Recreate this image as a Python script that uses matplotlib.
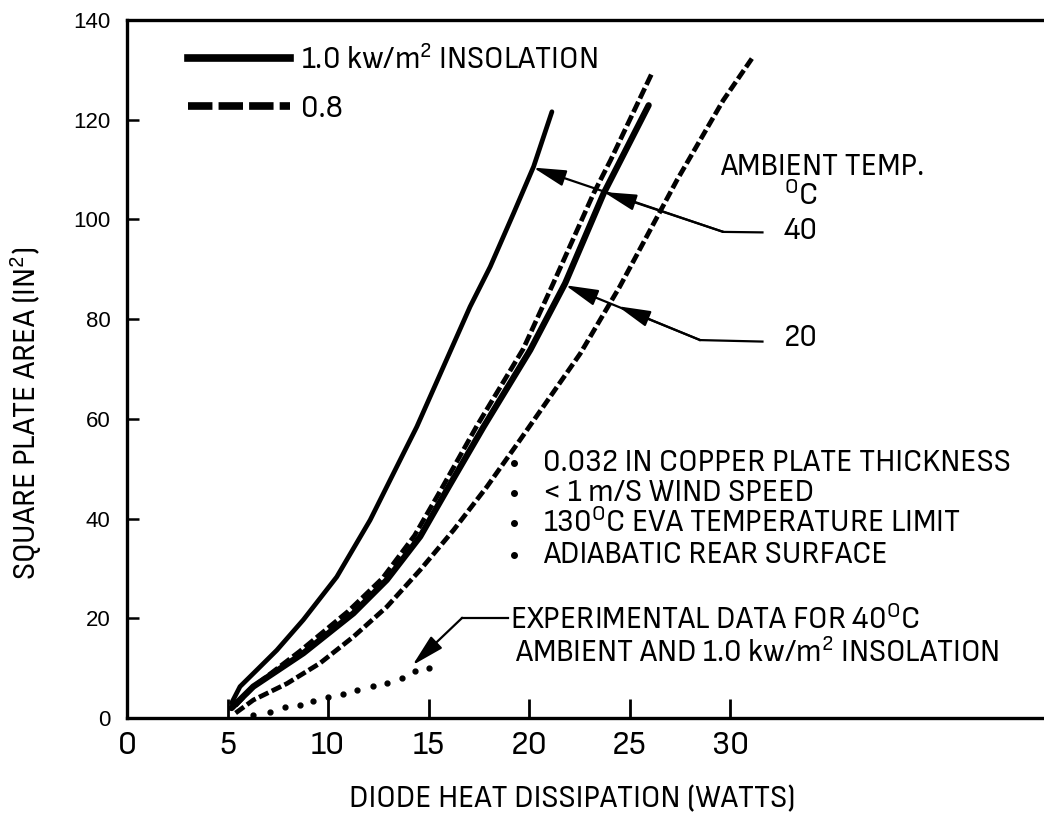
import matplotlib
matplotlib.use("Agg")
import matplotlib.pyplot as plt
from matplotlib.lines import Line2D

plt.rcParams['font.family'] = ['Sofia Sans Semi Condensed', 'Liberation Sans', 'DejaVu Sans']
plt.rcParams['mathtext.fontset'] = 'custom'
plt.rcParams['mathtext.rm'] = 'Sofia Sans Semi Condensed'
plt.rcParams['mathtext.it'] = 'Sofia Sans Semi Condensed'

# curvas (W, in^2)
x_40_10 = [5.2, 5.62, 6.5, 7.45, 8.77, 10.43, 12.09, 13.75, 14.41, 15.85, 17.06, 18.06, 19.22, 20.22, 21.13]
y_40_10 = [3.0, 6.3, 9.8, 13.6, 19.7, 28.3, 39.7, 53.1, 58.4, 71.5, 82.5, 90.5, 101.2, 110.6, 121.6]

x_20_10 = [5.2, 6.28, 8.77, 11.26, 12.92, 14.58, 16.0, 17.73, 20.05, 21.79, 23.7, 25.94]
y_20_10 = [2.0, 6.3, 13.0, 21.0, 27.7, 36.4, 46.4, 58.4, 73.8, 87.2, 105.2, 122.9]

x_40_08 = [5.4, 6.2, 8.6, 11.0, 12.7, 14.3, 15.7, 17.4, 19.7, 21.2, 23.2, 24.05, 26.1]
y_40_08 = [2.5, 6.0, 13.4, 21.4, 28.0, 36.6, 46.4, 58.6, 74.0, 87.2, 105.2, 111.9, 129.3]

x_20_08 = [5.4, 6.28, 7.95, 9.6, 11.26, 12.92, 14.58, 16.24, 17.9, 19.55, 22.54, 24.5, 27.35, 29.65, 31.08]
y_20_08 = [1.0, 3.6, 6.9, 11.0, 16.3, 22.3, 29.7, 37.7, 46.4, 55.8, 73.1, 86.5, 107.9, 123.9, 132.3]

# datos experimentales (40 C, 1.0 kw/m2)
exp_x = [6.29, 7.11, 7.86, 8.61, 9.27, 10.0, 10.76, 11.42, 12.22, 12.92, 13.66, 14.33, 15.04]
exp_y = [0.6, 1.3, 2.3, 2.6, 3.4, 4.2, 4.9, 5.6, 6.4, 7.1, 8.1, 9.4, 10.0]

x_ticks = [0, 5, 10, 15, 20, 25, 30]
y_ticks = [0, 20, 40, 60, 80, 100, 120, 140]

notes = ["0.032 IN COPPER PLATE THICKNESS",
         "< 1 m/S WIND SPEED",
         "130$^{\\rm O}$C EVA TEMPERATURE LIMIT",
         "ADIABATIC REAR SURFACE"]
notes_y = [51.1, 45.1, 39.1, 32.7]

fs = 23
fig = plt.figure(figsize=(10.44, 8.17), dpi=100)
ax = fig.add_axes([127 / 1044, 1 - 718 / 817, 1 - 127 / 1044, 698 / 817])

ax.plot(x_40_10, y_40_10, color='black', lw=3.4, solid_capstyle='round')
ax.plot(x_20_10, y_20_10, color='black', lw=4.5, solid_capstyle='round')
ax.plot(x_40_08, y_40_08, color='black', lw=3.4, dashes=(2.4, 0.8))
ax.plot(x_20_08, y_20_08, color='black', lw=3.4, dashes=(2.2, 0.8))
ax.plot(exp_x, exp_y, 'o', color='black', ms=3.5)

ax.set_xlim(0, 45.6)
ax.set_ylim(0, 140)
ax.set_xticks(x_ticks)
ax.set_yticks(y_ticks)
ax.tick_params(axis='x', direction='in', length=14, width=2, pad=9, labelsize=25)
ax.tick_params(axis='y', direction='in', length=8.5, width=1.8, pad=12,
               labelsize=16, labelfontfamily='Liberation Sans')
ax.spines['right'].set_visible(False)
for s in ['left', 'bottom', 'top']:
    ax.spines[s].set_linewidth(2.4)

ax.set_xlabel("DIODE HEAT DISSIPATION (WATTS)", fontsize=fs)
ax.xaxis.set_label_coords(0.486, -0.097)
ax.set_ylabel("SQUARE PLATE AREA (IN$^2$)", fontsize=fs)
ax.yaxis.set_label_coords(-0.09, 0.437)

# leyenda
handles = [Line2D([], [], color='black', lw=5.5),
           Line2D([], [], color='black', lw=5.5, dashes=(3.2, 0.8))]
ax.legend(handles, ["1.0 kw/m$^2$ INSOLATION", "0.8"], loc='upper left',
          bbox_to_anchor=(0.0665, 0.964), frameon=False, fontsize=fs,
          handlelength=3.2, handletextpad=0.33, labelspacing=0.62, borderpad=0,
          borderaxespad=0)

# etiquetas de temperatura
ax.text(29.5, 110.5, "AMBIENT TEMP.", fontsize=fs, va='center', ha='left')
ax.text(33.5, 104.7, "$^{\\rm O}$C", fontsize=fs, va='center', ha='center')
ax.text(33.5, 97.7, "40", fontsize=fs, va='center', ha='center')
ax.text(33.5, 76.2, "20", fontsize=fs, va='center', ha='center')

arr = dict(arrowstyle='-|>,head_length=1.0,head_width=0.25', color='black',
           lw=1.6, mutation_scale=20, shrinkA=0, shrinkB=0)
ax.plot([31.6, 29.65], [97.4, 97.5], color='black', lw=1.6)
ax.annotate("", xy=(20.2, 110.4), xytext=(29.65, 97.5), arrowprops=arr)
ax.annotate("", xy=(23.7, 105.5), xytext=(29.65, 97.5), arrowprops=arr)
ax.plot([31.6, 28.5], [75.5, 75.8], color='black', lw=1.6)
ax.annotate("", xy=(21.8, 86.8), xytext=(28.5, 75.8), arrowprops=arr)
ax.annotate("", xy=(24.4, 82.6), xytext=(28.5, 75.8), arrowprops=arr)

# notas
for txt, yy in zip(notes, notes_y):
    ax.plot([19.25], [yy], 'o', color='black', ms=4)
    ax.text(20.7, yy, txt, fontsize=fs, va='center', ha='left')

# datos experimentales
ax.plot([18.95, 16.67], [20.1, 20.1], color='black', lw=1.6)
ax.annotate("", xy=(14.2, 10.6), xytext=(16.67, 20.1), arrowprops=arr)
ax.text(19.05, 19.7, "EXPERIMENTAL DATA FOR 40$^{\\rm O}$C", fontsize=fs, va='center', ha='left')
ax.text(19.3, 13.0, "AMBIENT AND 1.0 kw/m$^2$ INSOLATION", fontsize=fs, va='center', ha='left')

fig.savefig("out.png", dpi=100)
